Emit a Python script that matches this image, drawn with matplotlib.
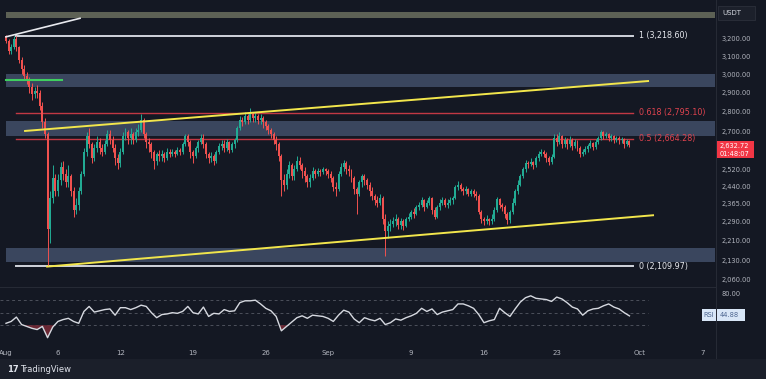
import matplotlib
matplotlib.use("Agg")
import matplotlib.pyplot as plt
import matplotlib.dates as mdates
from matplotlib.patches import Rectangle
from matplotlib.ticker import NullLocator, NullFormatter
import numpy as np
import pandas as pd

# ---- data (ETH/USDT, 6h candles from 2024-08-01) ----
first_open = 3218
closes = [
    3190, 3130, 3150, 3200, 3150, 3080, 3030, 2990, 2960, 2930, 2890, 2910,
    2900, 2830, 2750, 2690, 2260, 2390, 2480, 2420, 2470, 2530, 2500, 2460,
    2490, 2420, 2340, 2360, 2420, 2500, 2600, 2680, 2640, 2570, 2620, 2650,
    2620, 2600, 2640, 2690, 2660, 2620, 2570, 2550, 2600, 2680, 2700, 2670,
    2690, 2660, 2700, 2710, 2760, 2690, 2650, 2640, 2600, 2560, 2590, 2580,
    2590, 2570, 2600, 2590, 2600, 2590, 2610, 2600, 2640, 2680, 2650, 2600,
    2580, 2620, 2650, 2670, 2640, 2590, 2570, 2580, 2560, 2600, 2630, 2640,
    2620, 2650, 2610, 2640, 2660, 2720, 2760, 2750, 2780, 2760, 2790, 2770,
    2780, 2760, 2770, 2750, 2730, 2710, 2690, 2660, 2640, 2580, 2470, 2450,
    2500, 2540, 2490, 2520, 2560, 2540, 2510, 2490, 2460, 2480, 2510, 2500,
    2510, 2505, 2520, 2510, 2500, 2480, 2440, 2430, 2500, 2530, 2550, 2520,
    2510, 2480, 2430, 2410, 2460, 2490, 2470, 2450, 2420, 2400, 2380, 2370,
    2390, 2300, 2250, 2270, 2280, 2290, 2300, 2275, 2290, 2270, 2300, 2310,
    2330, 2320, 2350, 2360, 2380, 2350, 2370, 2390, 2340, 2310, 2350, 2370,
    2380, 2360, 2370, 2380, 2390, 2440, 2450, 2430, 2420, 2430, 2410, 2420,
    2410, 2400, 2330, 2300, 2290, 2300, 2290, 2300, 2340, 2385, 2360, 2350,
    2320, 2295, 2330, 2370, 2420, 2450, 2490, 2520, 2550, 2545, 2555, 2540,
    2570, 2590, 2600, 2590, 2570, 2555, 2575, 2670, 2650, 2680, 2640, 2660,
    2640, 2660, 2630, 2650, 2620, 2590, 2600, 2615, 2630, 2645, 2625, 2650,
    2670, 2700, 2680, 2690, 2670, 2680, 2660, 2670, 2660, 2665, 2640, 2655,
    2632.72,
]
highs = [
    3225, 3200, 3170, 3215, 3215, 3160, 3095, 3050, 3010, 2985, 2950, 2930,
    2940, 2915, 2850, 2770, 2700, 2420, 2540, 2500, 2500, 2555, 2560, 2520,
    2540, 2500, 2440, 2390, 2440, 2510, 2620, 2700, 2720, 2650, 2640, 2680,
    2670, 2640, 2660, 2710, 2710, 2680, 2640, 2590, 2620, 2700, 2720, 2710,
    2720, 2700, 2720, 2740, 2790, 2770, 2700, 2670, 2650, 2610, 2600, 2610,
    2610, 2600, 2620, 2615, 2615, 2610, 2625, 2620, 2650, 2690, 2690, 2660,
    2610, 2630, 2660, 2690, 2690, 2650, 2600, 2600, 2590, 2610, 2645, 2660,
    2660, 2665, 2655, 2650, 2670, 2730, 2780, 2775, 2800, 2790, 2820, 2800,
    2800, 2790, 2790, 2780, 2760, 2740, 2720, 2700, 2680, 2650, 2590, 2500,
    2520, 2560, 2550, 2540, 2580, 2575, 2550, 2530, 2500, 2500, 2530, 2520,
    2525, 2520, 2530, 2525, 2520, 2510, 2490, 2460, 2510, 2550, 2565, 2560,
    2540, 2520, 2490, 2440, 2470, 2500, 2500, 2480, 2460, 2440, 2410, 2400,
    2410, 2400, 2320, 2290, 2300, 2310, 2320, 2310, 2305, 2300, 2310, 2325,
    2340, 2345, 2360, 2375, 2395, 2385, 2380, 2400, 2395, 2350, 2360, 2385,
    2395, 2390, 2385, 2395, 2400, 2450, 2465, 2455, 2440, 2445, 2435, 2430,
    2430, 2420, 2410, 2340, 2310, 2315, 2305, 2320, 2350, 2395, 2390, 2370,
    2360, 2330, 2340, 2390, 2430, 2470, 2500, 2530, 2565, 2560, 2570, 2560,
    2580, 2605, 2615, 2610, 2600, 2580, 2590, 2690, 2690, 2700, 2685, 2675,
    2670, 2680, 2670, 2665, 2660, 2630, 2615, 2630, 2640, 2660, 2650, 2665,
    2680, 2710, 2705, 2700, 2695, 2690, 2685, 2680, 2680, 2675, 2670, 2665,
    2660,
]
lows = [
    3175, 3115, 3110, 3140, 3130, 3060, 3000, 2965, 2945, 2900, 2860, 2870,
    2870, 2810, 2720, 2670, 2111, 2200, 2370, 2400, 2400, 2450, 2470, 2440,
    2440, 2400, 2310, 2320, 2340, 2410, 2490, 2580, 2620, 2550, 2560, 2600,
    2590, 2580, 2590, 2630, 2640, 2600, 2540, 2520, 2530, 2590, 2660, 2640,
    2640, 2640, 2650, 2680, 2700, 2670, 2620, 2600, 2570, 2520, 2540, 2560,
    2560, 2555, 2565, 2575, 2580, 2575, 2585, 2585, 2590, 2630, 2630, 2570,
    2550, 2570, 2600, 2640, 2620, 2570, 2550, 2555, 2540, 2550, 2590, 2610,
    2600, 2605, 2595, 2600, 2620, 2650, 2710, 2730, 2740, 2740, 2750, 2750,
    2750, 2740, 2740, 2720, 2710, 2690, 2670, 2640, 2610, 2560, 2400, 2420,
    2430, 2480, 2470, 2470, 2510, 2520, 2480, 2460, 2440, 2440, 2470, 2480,
    2490, 2490, 2500, 2495, 2480, 2460, 2420, 2400, 2420, 2490, 2510, 2500,
    2490, 2460, 2410, 2320, 2400, 2440, 2450, 2430, 2400, 2380, 2360, 2350,
    2360, 2280, 2150, 2220, 2250, 2265, 2270, 2260, 2260, 2255, 2265, 2290,
    2300, 2305, 2315, 2340, 2350, 2335, 2345, 2360, 2320, 2300, 2305, 2340,
    2360, 2350, 2345, 2360, 2365, 2385, 2425, 2420, 2405, 2410, 2400, 2400,
    2395, 2380, 2320, 2285, 2275, 2280, 2275, 2280, 2290, 2330, 2345, 2335,
    2305, 2280, 2285, 2320, 2360, 2410, 2445, 2480, 2505, 2525, 2535, 2520,
    2530, 2560, 2580, 2575, 2555, 2540, 2545, 2570, 2630, 2640, 2620, 2625,
    2615, 2625, 2610, 2620, 2605, 2575, 2580, 2590, 2600, 2620, 2610, 2615,
    2640, 2660, 2665, 2670, 2655, 2655, 2645, 2650, 2640, 2645, 2620, 2630,
    2625,
]
# RSI(14) read every 12h
rsi = [
    33, 36, 43, 31, 28, 25, 23, 28, 10, 27, 36, 39, 41, 36, 33, 52, 60, 51,
    53, 55, 56, 46, 58, 58, 55, 58, 62, 60, 50, 42, 47, 48, 50, 49, 52, 60,
    50, 48, 59, 44, 49, 48, 55, 52, 53, 66, 69, 69, 70, 64, 57, 53, 44, 21,
    28, 35, 42, 45, 41, 46, 45, 44, 41, 36, 46, 54, 51, 40, 34, 42, 39, 37,
    41, 31, 34, 40, 38, 42, 45, 49, 57, 52, 56, 47, 51, 53, 55, 64, 64, 61,
    57, 47, 34, 37, 39, 57, 50, 44, 56, 67, 74, 77, 73, 72, 71, 68, 75, 72,
    66, 59, 56, 46, 53, 56, 57, 61, 64, 59, 56, 50, 44.88,
]

fib_levels = [3218.60, 2795.10, 2664.28, 2109.97]
fib_names = ["1", "0.618", "0.5", "0"]
price_ticks = [3200, 3100, 3000, 2900, 2800, 2700, 2520, 2440, 2365, 2290, 2210, 2130, 2060]
zones = [(2928, 3000), (2679, 2754), (2125, 2180)]
top_band = (3324, 3361)
date_ticks = ["2024-08-01", "2024-08-06", "2024-08-12", "2024-08-19", "2024-08-26", "2024-09-01",
              "2024-09-09", "2024-09-16", "2024-09-23", "2024-10-01", "2024-10-07"]
date_labels = ["Aug", "6", "12", "19", "26", "Sep", "9", "16", "23", "Oct", "7"]

BG = "#141823"
UP, DOWN = "#22ab94", "#f0514f"
TXT = "#b2b5be"

W, H = 766, 379
fig = plt.figure(figsize=(W / 100, H / 100), dpi=100)
fig.patch.set_facecolor(BG)


def px_box(x0, y0, x1, y1):
    return [x0 / W, 1 - y1 / H, (x1 - x0) / W, (y1 - y0) / H]


ax = fig.add_axes(px_box(0, 0, 716, 287))
ax_rsi = fig.add_axes(px_box(0, 288, 716, 343))
for a in (ax, ax_rsi):
    a.set_facecolor(BG)
    for s in a.spines.values():
        s.set_visible(False)

times = pd.date_range("2024-08-01", periods=len(closes), freq="6h")
x = mdates.date2num(times)
opens = [first_open] + closes[:-1]
t0 = mdates.date2num(pd.Timestamp("2024-08-01"))
T = lambda s: mdates.date2num(pd.Timestamp(s))

# candles
for xi, o, h, l, c in zip(x, opens, highs, lows, closes):
    col = UP if c >= o else DOWN
    ax.vlines(xi, min(l, o, c), max(h, o, c), color=col, lw=0.7, zorder=3)
    lo, hi = min(o, c), max(o, c)
    ax.bar(xi, max(hi - lo, 2.5), bottom=lo, width=0.19, color=col, lw=0, zorder=4)

ax.set_yscale("log")
ax.set_ylim(2030.6, 3436.3)
ax.set_xlim(t0 - 0.577, t0 + 68.33)
ax.yaxis.set_minor_locator(NullLocator())
ax.yaxis.set_minor_formatter(NullFormatter())

# zones and bands
zone_end = T("2024-10-08 06:00")
for lo, hi in zones:
    ax.fill_between([t0, zone_end], lo, hi, color="#3a465e", lw=0, zorder=1)
ax.fill_between([t0, zone_end], *top_band, color="#5d6155", lw=0, zorder=1)

# fib levels
fs, fe = T("2024-08-01 23:00"), T("2024-09-30 08:00")
for lvl, name in zip(fib_levels, fib_names):
    white = name in ("1", "0")
    col = "#d1d4dc" if white else "#c23844"
    ax.plot([fs, fe], [lvl, lvl], color=col, lw=1.4 if white else 1.0, zorder=2)
    ax.text(T("2024-09-30 22:00"), lvl, f"{name} ({lvl:,.2f})", color="#e6e8ee" if white else "#e0434f",
            fontsize=5.8, va="center", ha="left", zorder=6)

# trend lines
ax.plot([T("2024-08-02 20:00"), T("2024-10-01 19:00")], [2703, 2962], color="#f2e64c", lw=1.4, zorder=5)
ax.plot([T("2024-08-04 23:00"), T("2024-10-02 06:30")], [2108, 2316], color="#f2e64c", lw=1.4, zorder=5)
ax.plot([t0, T("2024-08-08 03:00")], [3212, 3323], color="#e8e9ee", lw=1.2, zorder=5)
ax.plot([t0, T("2024-08-06 09:00")], [2967, 2967], color="#3fcf5f", lw=1.5, zorder=5)

# price axis
ax.set_xticks([])
ax.yaxis.tick_right()
ax.set_yticks(price_ticks)
ax.set_yticklabels([f"{v:,.2f}" for v in price_ticks])
ax.tick_params(axis="y", length=0, pad=4, labelsize=4.8, labelcolor=TXT)

# RSI pane
rx = mdates.date2num(pd.date_range("2024-08-01", periods=len(rsi), freq="12h"))
ax_rsi.plot(rx, rsi, color="#d6d9e0", lw=1.0, zorder=3)
r = np.array(rsi, dtype=float)
ax_rsi.fill_between(rx, r, 30, where=r < 30, interpolate=True, color="#6a2733", lw=0, zorder=2)
for lvl in (70, 50, 30):
    ax_rsi.axhline(lvl, xmax=0.905, color="#4c505b", lw=0.7, ls=(0, (3, 3)), zorder=1)
ax_rsi.set_ylim(1.5, 89.5)
ax_rsi.set_xlim(ax.get_xlim())
ax_rsi.yaxis.tick_right()
ax_rsi.set_yticks([80])
ax_rsi.set_yticklabels(["80.00"])
ax_rsi.tick_params(axis="y", length=0, pad=4, labelsize=4.8, labelcolor=TXT)
ax_rsi.set_xticks([T(d) for d in date_ticks])
ax_rsi.set_xticklabels(date_labels)
ax_rsi.tick_params(axis="x", length=0, pad=5, labelsize=5, labelcolor=TXT)

# overlays in pixel space
def fig_rect(x0, y0, x1, y1, **kw):
    fig.add_artist(Rectangle((x0 / W, 1 - y1 / H), (x1 - x0) / W, (y1 - y0) / H,
                             transform=fig.transFigure, **kw))


def fig_text(px, py, s, **kw):
    fig.text(px / W, 1 - py / H, s, **kw)


fig_rect(0, 359, 766, 379, color="#1b1f2a", lw=0)
fig_rect(716, 0, 716.8, 359, color="#262a35", lw=0)
fig_rect(0, 287, 716, 287.8, color="#262a35", lw=0)
fig_text(7, 370, "17", color="#e0e3eb", fontsize=6, weight="bold", va="center")
fig_text(20, 370, "TradingView", color="#e0e3eb", fontsize=6, va="center")

fig_rect(718, 6, 755, 20, facecolor="#1c202b", edgecolor="#2c303b", lw=0.6)
fig_text(722, 13, "USDT", color="#d1d4dc", fontsize=5, va="center")

fig_rect(717, 141, 754, 158, color="#f23645", lw=0)
fig_text(720, 146, f"{closes[-1]:,.2f}", color="white", fontsize=4.8, va="center")
fig_text(720, 153.5, "01:48:07", color="white", fontsize=4.8, va="center")

fig_rect(702, 309, 716, 321, color="#d8e6f7", lw=0)
fig_rect(717, 309, 745, 321, color="#d8e6f7", lw=0)
fig_text(703.5, 315, "RSI", color="#4d6690", fontsize=4.8, va="center")
fig_text(720, 315, f"{rsi[-1]:.2f}", color="#4d6690", fontsize=4.8, va="center")

fig.savefig("out.png", dpi=100, facecolor=BG)
